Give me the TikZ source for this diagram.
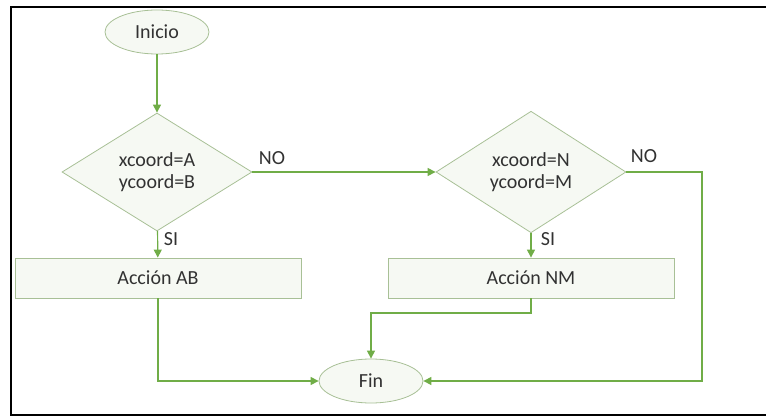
\documentclass[tikz,border=0pt]{standalone}
\usepackage{fontspec}
\setmainfont{Carlito}
\usepackage{tikz}
\usetikzlibrary{shapes.geometric, arrows.meta, positioning, calc}

\definecolor{flowgreen}{RGB}{112,173,71}
\definecolor{shapeline}{RGB}{168,192,150}
\definecolor{shapefill}{RGB}{246,249,243}
\definecolor{inktext}{RGB}{50,50,50}

\tikzset{
  terminal/.style={draw=shapeline, ellipse, fill=shapefill, minimum width=52pt, minimum height=22pt, inner sep=0pt, text=inktext},
  decision/.style={draw=shapeline, diamond, fill=shapefill, minimum width=95pt, minimum height=59pt, inner sep=0pt, align=center, text=inktext},
  process/.style={draw=shapeline, rectangle, fill=shapefill, minimum width=143pt, minimum height=20pt, inner sep=0pt, text=inktext},
  flow/.style={draw=flowgreen, line width=0.6pt, -{Triangle[length=4pt,width=4pt]}},
  lbl/.style={text=inktext}
}

\begin{document}
\begin{tikzpicture}[x=0.5pt, y=-0.5pt, font=\normalsize]
                \useasboundingbox (0,0) rectangle (766,417);
                \draw[line width=1.4pt] (780,7) -- (11,7) -- (11,415) -- (780,415);

                \node[terminal] (inicio) at (157,32) {Inicio};
                \node[decision] (dec1) at (157,172) {xcoord=A\\[-1pt]ycoord=B};
                \node[decision] (dec2) at (531,172) {xcoord=N\\[-1pt]ycoord=M};
                \node[process] (accab) at (158,278) {Acción AB};
                \node[process] (accnm) at (531,278) {Acción NM};
                \node[terminal] (fin) at (371,381) {Fin};

                \coordinate (nmturn) at (531,313);
                \coordinate (noturn) at (702,172);

                \draw[flow] (inicio) -- (dec1);
                \draw[flow] (dec1) -- (dec2);
                \draw[flow] (dec1) -- (accab);
                \draw[flow] (dec2) -- (accnm);
                \draw[flow] (accab.south) |- (fin.west);
                \draw[flow] (accnm.south) -- (nmturn) -| (fin.north);
                \draw[flow] (dec2.east) -- (noturn) |- (fin.east);

                \node[lbl] (no1) at (272,158) {NO};
                \node[lbl] (si1) at (171,239) {SI};
                \node[lbl] (no2) at (644,156) {NO};
                \node[lbl] (si2) at (548,239) {SI};
            \end{tikzpicture}
\end{document}
